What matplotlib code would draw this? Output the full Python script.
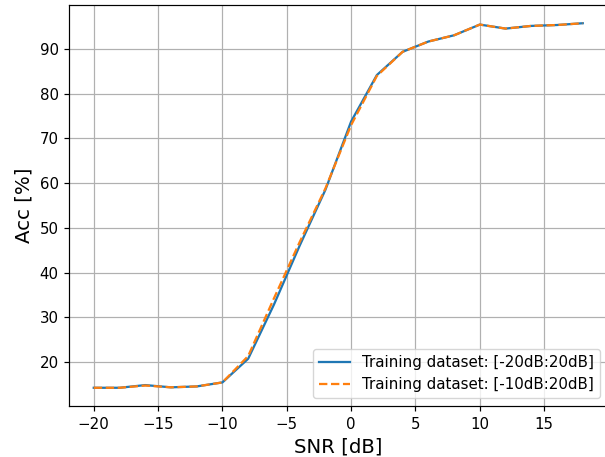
import matplotlib
matplotlib.use('Agg')
import matplotlib.pyplot as plt

# SNR grid and accuracies
snr = [-20, -18, -16, -14, -12, -10, -8, -6, -4, -2, 0, 2, 4, 6, 8, 10, 12, 14, 16, 18]
acc_full = [14.2, 14.2, 14.8, 14.3, 14.5, 15.4, 20.7, 32.8, 46.0, 58.5, 73.8, 84.2,
            89.4, 91.7, 93.1, 95.5, 94.6, 95.2, 95.4, 95.8]
acc_half = [14.2, 14.2, 14.7, 14.3, 14.5, 15.4, 21.3, 34.2, 46.8, 58.8, 73.0, 84.0,
            89.4, 91.7, 93.1, 95.5, 94.6, 95.2, 95.4, 95.8]
labels = ['Training dataset: [-20dB:20dB]', 'Training dataset: [-10dB:20dB]']

s = 1.085  # scale relative to default sizes
plt.rcParams['axes.linewidth'] = 0.8 * s
plt.rcParams['xtick.major.width'] = 0.8 * s
plt.rcParams['ytick.major.width'] = 0.8 * s
plt.rcParams['xtick.major.size'] = 3.5 * s
plt.rcParams['ytick.major.size'] = 3.5 * s
plt.rcParams['xtick.major.pad'] = 3.5 * s
plt.rcParams['ytick.major.pad'] = 3.5 * s

fig = plt.figure(figsize=(6.05, 4.57), dpi=100)
ax = fig.add_axes([69.3 / 605, 51 / 457, (607.2 - 69.3) / 605, 401 / 457])

ax.plot(snr, acc_full, color='#1f77b4', lw=1.5 * s, label=labels[0])
ax.plot(snr, acc_half, color='#ff7f0e', lw=1.5 * s, ls='--', label=labels[1])

ax.grid(True, color='#b0b0b0', lw=0.8 * s)
ax.set_xlabel('SNR [dB]', fontsize=14.2, labelpad=4 * s)
ax.set_ylabel('Acc [%]', fontsize=14.2, labelpad=4 * s)
ax.tick_params(labelsize=10 * s)
ax.legend(loc='lower right', fontsize=10 * s)

fig.savefig('out.png', dpi=100)
